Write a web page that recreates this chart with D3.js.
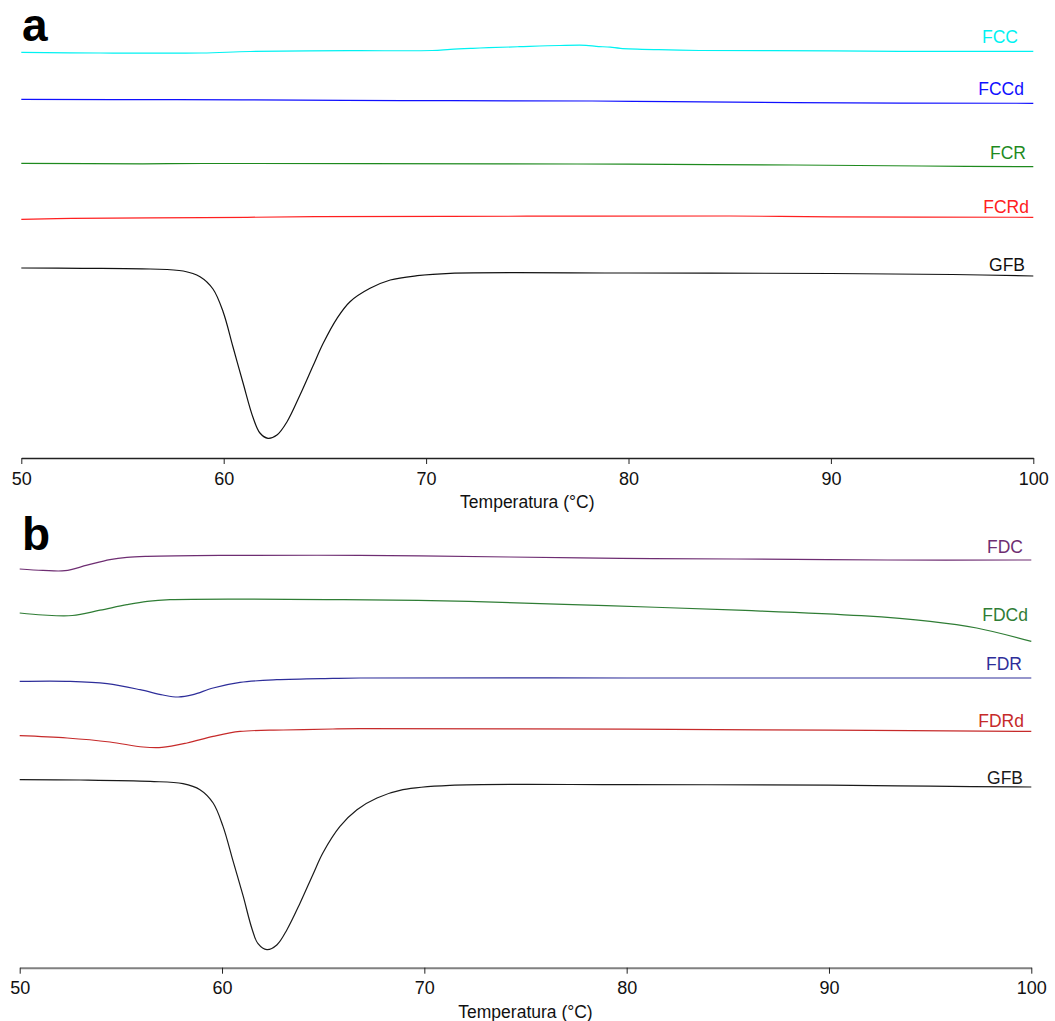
<!DOCTYPE html>
<html>
<head>
<meta charset="utf-8">
<script src="https://cdn.jsdelivr.net/npm/d3@7"></script>
<style>
  html, body { margin: 0; padding: 0; background: #fff; }
  svg { display: block; font-family: "Liberation Sans", Arial, sans-serif; }
</style>
</head>
<body>
<svg id="chart" width="1055" height="1021"></svg>
<script>
// DSC thermograms, heat flow in arbitrary units (curves offset vertically)
const ticks = [50, 60, 70, 80, 90, 100];
const axisTitle = "Temperatura (°C)";

// Panel a
const namesA = ["FCC", "FCCd", "FCR", "FCRd", "GFB"];
const FCC = [[50,405.7],[53.9,405],[58.9,405],[61.3,406.5],[66.2,407.3],[70.3,407.5],[71.2,408.7],[72.3,409.7],[73.1,410.3],[74.6,411.3],[76.6,412.5],[77.9,412.7],[78.4,411.7],[79.1,410.8],[79.6,409.7],[81.5,408.3],[83.5,407.5],[90.1,407.2],[93.4,406.7],[100,406.7]];
const FCCd = [[50,358.7],[57.7,358.3],[66,357.7],[71.2,357.3],[78.2,357],[82.1,356.3],[88.2,355.3],[100,354.7]];
const FCR = [[50,294.7],[56,294.2],[59,294.5],[73.7,294.2],[80,293.8],[88.2,293],[94.5,292],[100,291.3]];
const FCRd = [[50,238.7],[52.5,239.7],[59,240.3],[64.5,241.3],[75,241.8],[85,242],[90,241.2],[100,240.7]];
const GFBa = [[50,190],[53,189.7],[56.36,189],[58,187],[58.83,181.3],[59.47,169],[59.97,146.3],[60.46,111],[60.95,75.5],[61.45,40.5],[61.79,25],[62.19,19.7],[62.63,23],[63.13,36.3],[63.77,63],[64.41,92],[64.91,114.5],[65.6,139.7],[66.24,156.3],[67.23,169.7],[68.23,178],[69.56,182.3],[71.19,184.7],[80,185],[90,184.5],[96,183.5],[100,182]];

// Panel b
const namesB = ["FDC", "FDCd", "FDR", "FDRd", "GFB"];
const FDC = [[50,398.7],[51.15,397.3],[52.24,397],[53.33,402.5],[54.46,408],[55.3,410.3],[56.3,411.3],[59.9,412.3],[66.8,412.3],[74.2,410.7],[79.7,409.3],[85.4,408.7],[92.9,407.7],[100,407.7]];
const FDCd = [[50,354.7],[51.15,352.7],[52.6,352.2],[53.97,357.5],[55.3,363],[56.3,366.3],[57.43,368],[66,368],[72.2,366.3],[79,362],[85.85,357.3],[91.6,352],[95,346.3],[97.3,339.7],[100,326.3]];
const FDR = [[50,286.3],[52.5,286.3],[54.32,284],[55.95,278],[57.08,272.7],[57.83,270.7],[58.57,273],[59.56,279.7],[60.89,285.3],[62.71,288],[65.48,289.3],[66.82,289.7],[80,289.7],[100,289.7]];
const FDRd = [[50,232],[52.34,229.7],[54.46,225.7],[56.1,220.7],[57.03,220.3],[58.27,224.7],[59.56,231.3],[60.89,236.3],[63.02,237.7],[65.48,238.7],[66.82,239],[80,238.5],[90,237.5],[100,236.3]];
const GFBb = [[50,188],[53,187.7],[56.45,186.3],[58.07,184],[58.91,178],[59.56,164.7],[60.05,141.3],[60.54,107],[61.04,72],[61.48,39],[61.78,24],[62.22,18],[62.72,23],[63.21,38],[63.86,64.7],[64.5,93.5],[64.99,115],[65.83,141.3],[66.67,158],[67.66,169.7],[68.94,178],[71.27,182.3],[80,183],[90,182.5],[95,181.5],[100,180.7]];

// Styling and layout
const panels = [
  {
    letter: "a", letterX: 22, letterY: 41,
    x0: 21.3, x1: 1033.3, axisY: 458, titleY: 508,
    axisColor: "#222", axisWidth: 1.3,
    series: [FCC, FCCd, FCR, FCRd, GFBa], names: namesA,
    colors: ["#00f2f2", "#1010ff", "#1e8a1e", "#ff2020", "#111"],
    labelX: [1018, 1024, 1026, 1029, 1025],
    labelBase: [42.7, 95, 159.3, 212.7, 270.7]
  },
  {
    letter: "b", letterX: 22, letterY: 550,
    x0: 19.7, x1: 1031.3, axisY: 967.7, titleY: 1018,
    axisColor: "#808080", axisWidth: 2,
    series: [FDC, FDCd, FDR, FDRd, GFBb], names: namesB,
    colors: ["#6e2d72", "#2f7d35", "#2e2e9a", "#c62a2a", "#1a1a1a"],
    labelX: [1023, 1028, 1022, 1024, 1023],
    labelBase: [552.7, 620.7, 670, 727, 784]
  }
];

const svg = d3.select("#chart");

panels.forEach(p => {
  const x = d3.scaleLinear().domain([50, 100]).range([p.x0, p.x1]);
  const y = d3.scaleLinear().domain([0, 420]).range([p.axisY, p.axisY - 420]);
  const g = svg.append("g");

  const line = d3.line()
    .x(d => x(d[0]))
    .y(d => y(d[1]))
    .curve(d3.curveCatmullRom.alpha(0.5));

  p.series.forEach((s, i) => {
    g.append("path")
      .datum(s)
      .attr("d", line)
      .attr("fill", "none")
      .attr("stroke", p.colors[i])
      .attr("stroke-width", 1.2)
      .attr("stroke-linejoin", "round");

    g.append("text")
      .attr("x", p.labelX[i])
      .attr("y", p.labelBase[i])
      .attr("text-anchor", "end")
      .attr("font-size", 17.5)
      .attr("fill", p.colors[i])
      .text(p.names[i]);
  });

  // temperature axis
  const axis = d3.axisBottom(x)
    .tickValues(ticks)
    .tickFormat(d3.format("d"))
    .tickSizeOuter(0)
    .tickSizeInner(6)
    .tickPadding(8);
  const ax = g.append("g")
    .attr("transform", `translate(0,${p.axisY})`)
    .call(axis);
  ax.select(".domain")
    .attr("stroke", p.axisColor)
    .attr("stroke-width", p.axisWidth);
  ax.selectAll(".tick line").attr("stroke", "#222").attr("stroke-width", 1);
  ax.selectAll(".tick text")
    .attr("font-size", 18)
    .attr("font-family", "Liberation Sans, Arial, sans-serif")
    .attr("fill", "#111");

  g.append("text")
    .attr("x", (p.x0 + p.x1) / 2)
    .attr("y", p.titleY)
    .attr("text-anchor", "middle")
    .attr("font-size", 17.5)
    .attr("fill", "#111")
    .text(axisTitle);

  g.append("text")
    .attr("x", p.letterX)
    .attr("y", p.letterY)
    .attr("font-size", 46)
    .attr("font-weight", "bold")
    .attr("fill", "#000")
    .text(p.letter);
});
</script>
</body>
</html>
